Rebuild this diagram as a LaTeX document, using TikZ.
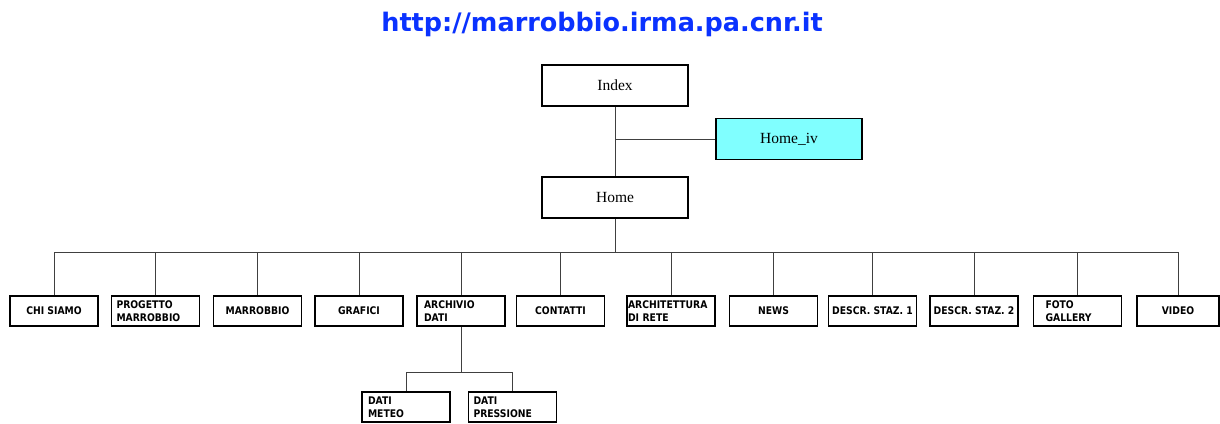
\documentclass[tikz,border=0pt]{standalone}
\usepackage{fontspec}
\setmainfont{Liberation Serif}
\newfontfamily\boxfont[FakeStretch=0.88]{DejaVu Sans}
\newfontfamily\urlfont{DejaVu Sans}
\usetikzlibrary{positioning}
\definecolor{urlblue}{HTML}{0A32FF}
\definecolor{ivcyan}{HTML}{80FFFF}
\definecolor{linegray}{HTML}{404040}

\begin{document}
\begin{tikzpicture}[x=1pt, y=-1pt,
  pagebox/.style={draw=black, line width=1.4pt, minimum width=146pt,
               minimum height=41pt, inner sep=0pt,
               font=\fontsize{15.5}{17}\selectfont},
  leaf/.style={draw=black, line width=1.6pt, minimum width=88pt,
               minimum height=30pt, inner sep=0pt, align=center,
               font=\boxfont\bfseries\fontsize{10.5}{13.5}\selectfont},
  leafl/.style={leaf, align=left, text width=78pt},
  link/.style={linegray, line width=0.8pt},
]
\useasboundingbox (0,0) rectangle (1220,423);

\node[font=\urlfont\bfseries\fontsize{25.5}{30}\selectfont, text=urlblue]
  (url) at (602,24) {http://marrobbio.irma.pa.cnr.it};

% top pages
\node[pagebox] (index) at (615,85.5) {Index};
\node[pagebox, fill=ivcyan] (homeiv) at (789,139) {Home\_iv};
\node[pagebox] (home) at (615,197.5) {Home};

% menu sections
\node[leaf] (chi) at (54,311) {CHI SIAMO};
\node[leafl] (progetto) at (155.5,311) {PROGETTO\\MARROBBIO};
\node[leaf] (marrobbio) at (257.5,311) {MARROBBIO};
\node[leaf] (grafici) at (359,311) {GRAFICI};
\node[leafl, text width=74pt] (archivio) at (461,311) {ARCHIVIO\\DATI};
\node[leaf] (contatti) at (560.5,311) {CONTATTI};
\node[leafl, text width=86pt] (architettura) at (671,311) {ARCHITETTURA\\DI RETE};
\node[leaf] (news) at (773.5,311) {NEWS};
\node[leaf] (staz1) at (872.5,311) {DESCR. STAZ. 1};
\node[leaf] (staz2) at (974,311) {DESCR. STAZ. 2};
\node[leafl, text width=64pt] (foto) at (1077.5,311) {FOTO\\GALLERY};
\node[leaf, minimum width=82pt] (video) at (1178,311) {VIDEO};

% archive sub pages
\node[leafl, text width=76pt] (meteo) at (406,407) {DATI\\METEO};
\node[leafl] (pressione) at (512.5,407) {DATI\\PRESSIONE};

\draw[link] (index) -- (home);
\draw[link] (index |- homeiv) -- (homeiv.west);

\coordinate (bus) at (615,252);
\draw[link] (home.south) -- (bus);
\foreach \n in {chi,progetto,marrobbio,grafici,archivio,contatti,
                architettura,news,staz1,staz2,foto,video}
  \draw[link] (bus) -| (\n.north);

\coordinate (subbus) at (461,372);
\draw[link] (archivio.south) -- (subbus);
\foreach \n in {meteo,pressione}
  \draw[link] (subbus) -| (\n.north);

\end{tikzpicture}
\end{document}
